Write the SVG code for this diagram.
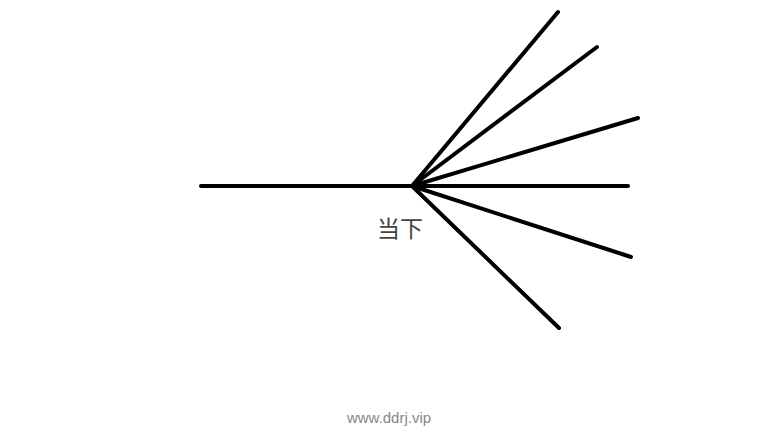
<svg xmlns="http://www.w3.org/2000/svg" width="776" height="438" viewBox="0 0 776 438">
<style>
.l{stroke:#000;stroke-width:4;stroke-linecap:round;fill:none}
.t{font-family:"Noto Sans CJK SC","Liberation Sans",sans-serif;font-size:23px;fill:#444}
.w{font-family:"Liberation Sans",sans-serif;font-size:15px;fill:#888}
</style>
<rect width="776" height="438" fill="#fff"/>
<g id="connectors">
<line class="l" x1="201" y1="186" x2="412" y2="186"/>
<line class="l" x1="412" y1="186" x2="558" y2="12"/>
<line class="l" x1="412" y1="186" x2="597" y2="47"/>
<line class="l" x1="412" y1="186" x2="638" y2="118"/>
<line class="l" x1="412" y1="186" x2="628" y2="186"/>
<line class="l" x1="412" y1="186" x2="631" y2="257"/>
<line class="l" x1="412" y1="186" x2="559" y2="328"/>
</g>
<g id="label"><text class="t" x="377" y="237">当下</text></g>
<g id="watermark"><text class="w" x="389" y="423" text-anchor="middle">www.ddrj.vip</text></g>
</svg>
